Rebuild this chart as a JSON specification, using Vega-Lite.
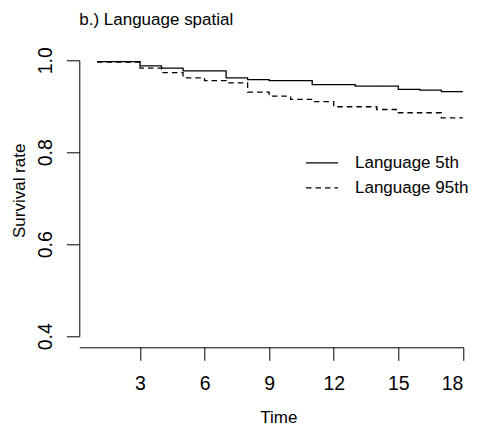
{
  "$schema": "https://vega.github.io/schema/vega-lite/v6.json",
  "autosize": {"type": "none"},
  "padding": {"left": 79.3, "top": 60.3, "right": 18, "bottom": 98},
  "width": 384,
  "height": 276,
  "background": "white",
  "config": {
    "font": "Liberation Sans",
    "view": {"stroke": null},
    "axis": {"grid": false, "domainColor": "#000", "tickColor": "#000", "labelColor": "#000", "titleColor": "#000", "titleFontWeight": "normal", "domainWidth": 1, "tickWidth": 1}
  },
  "title": {
    "text": "b.) Language spatial",
    "anchor": "start",
    "frame": "group",
    "fontSize": 17,
    "fontWeight": "normal",
    "color": "#000",
    "baseline": "alphabetic",
    "offset": 5
  },
  "data": {
    "values": [
      {"time": 1, "survival": 0.997, "group": "Language 5th"},
      {"time": 3, "survival": 0.988, "group": "Language 5th"},
      {"time": 4, "survival": 0.983, "group": "Language 5th"},
      {"time": 5, "survival": 0.977, "group": "Language 5th"},
      {"time": 7, "survival": 0.962, "group": "Language 5th"},
      {"time": 8, "survival": 0.958, "group": "Language 5th"},
      {"time": 9, "survival": 0.956, "group": "Language 5th"},
      {"time": 11, "survival": 0.947, "group": "Language 5th"},
      {"time": 13, "survival": 0.944, "group": "Language 5th"},
      {"time": 15, "survival": 0.937, "group": "Language 5th"},
      {"time": 16, "survival": 0.935, "group": "Language 5th"},
      {"time": 17, "survival": 0.932, "group": "Language 5th"},
      {"time": 18, "survival": 0.932, "group": "Language 5th"},
      {"time": 1, "survival": 0.996, "group": "Language 95th"},
      {"time": 3, "survival": 0.983, "group": "Language 95th"},
      {"time": 4, "survival": 0.973, "group": "Language 95th"},
      {"time": 5, "survival": 0.962, "group": "Language 95th"},
      {"time": 6, "survival": 0.956, "group": "Language 95th"},
      {"time": 7, "survival": 0.951, "group": "Language 95th"},
      {"time": 8, "survival": 0.931, "group": "Language 95th"},
      {"time": 9, "survival": 0.922, "group": "Language 95th"},
      {"time": 10, "survival": 0.915, "group": "Language 95th"},
      {"time": 11, "survival": 0.910, "group": "Language 95th"},
      {"time": 12, "survival": 0.899, "group": "Language 95th"},
      {"time": 14, "survival": 0.893, "group": "Language 95th"},
      {"time": 15, "survival": 0.886, "group": "Language 95th"},
      {"time": 17, "survival": 0.875, "group": "Language 95th"},
      {"time": 18, "survival": 0.875, "group": "Language 95th"}
    ]
  },
  "mark": {"type": "line", "interpolate": "step-after", "color": "#000", "strokeWidth": 1.3},
  "encoding": {
    "x": {
      "field": "time",
      "type": "quantitative",
      "scale": {"domain": [0.18, 18.02], "nice": false, "zero": false},
      "axis": {
        "title": "Time",
        "values": [3, 6, 9, 12, 15, 18],
        "offset": 11,
        "tickSize": 13,
        "labelFontSize": 19.5,
        "labelPadding": 14,
        "titleFontSize": 17,
        "titleX": 199,
        "titleY": 70.5,
        "titleBaseline": "middle",
        "titleAlign": "center"
      }
    },
    "y": {
      "field": "survival",
      "type": "quantitative",
      "scale": {"domain": [0.4, 1.0], "nice": false, "zero": false},
      "axis": {
        "title": "Survival rate",
        "values": [0.4, 0.6, 0.8, 1.0],
        "format": ".1f",
        "tickSize": 13,
        "labelFontSize": 19.5,
        "labelAngle": -90,
        "labelAlign": "center",
        "labelBaseline": "alphabetic",
        "labelPadding": 15,
        "titleFontSize": 17,
        "titleAngle": -90,
        "titleX": -59.3,
        "titleY": 130,
        "titleBaseline": "middle",
        "titleAlign": "center"
      }
    },
    "strokeDash": {
      "field": "group",
      "type": "nominal",
      "scale": {"domain": ["Language 5th", "Language 95th"], "range": [[1, 0], [5.5, 4]]},
      "legend": {
        "title": null,
        "orient": "none",
        "legendX": 225.7,
        "legendY": 85.5,
        "padding": 0,
        "symbolType": "stroke",
        "symbolSize": 1024,
        "symbolStrokeWidth": 1.3,
        "symbolStrokeColor": "#000",
        "labelFontSize": 17,
        "labelColor": "#000",
        "labelOffset": 16,
        "rowPadding": -11
      }
    }
  }
}
